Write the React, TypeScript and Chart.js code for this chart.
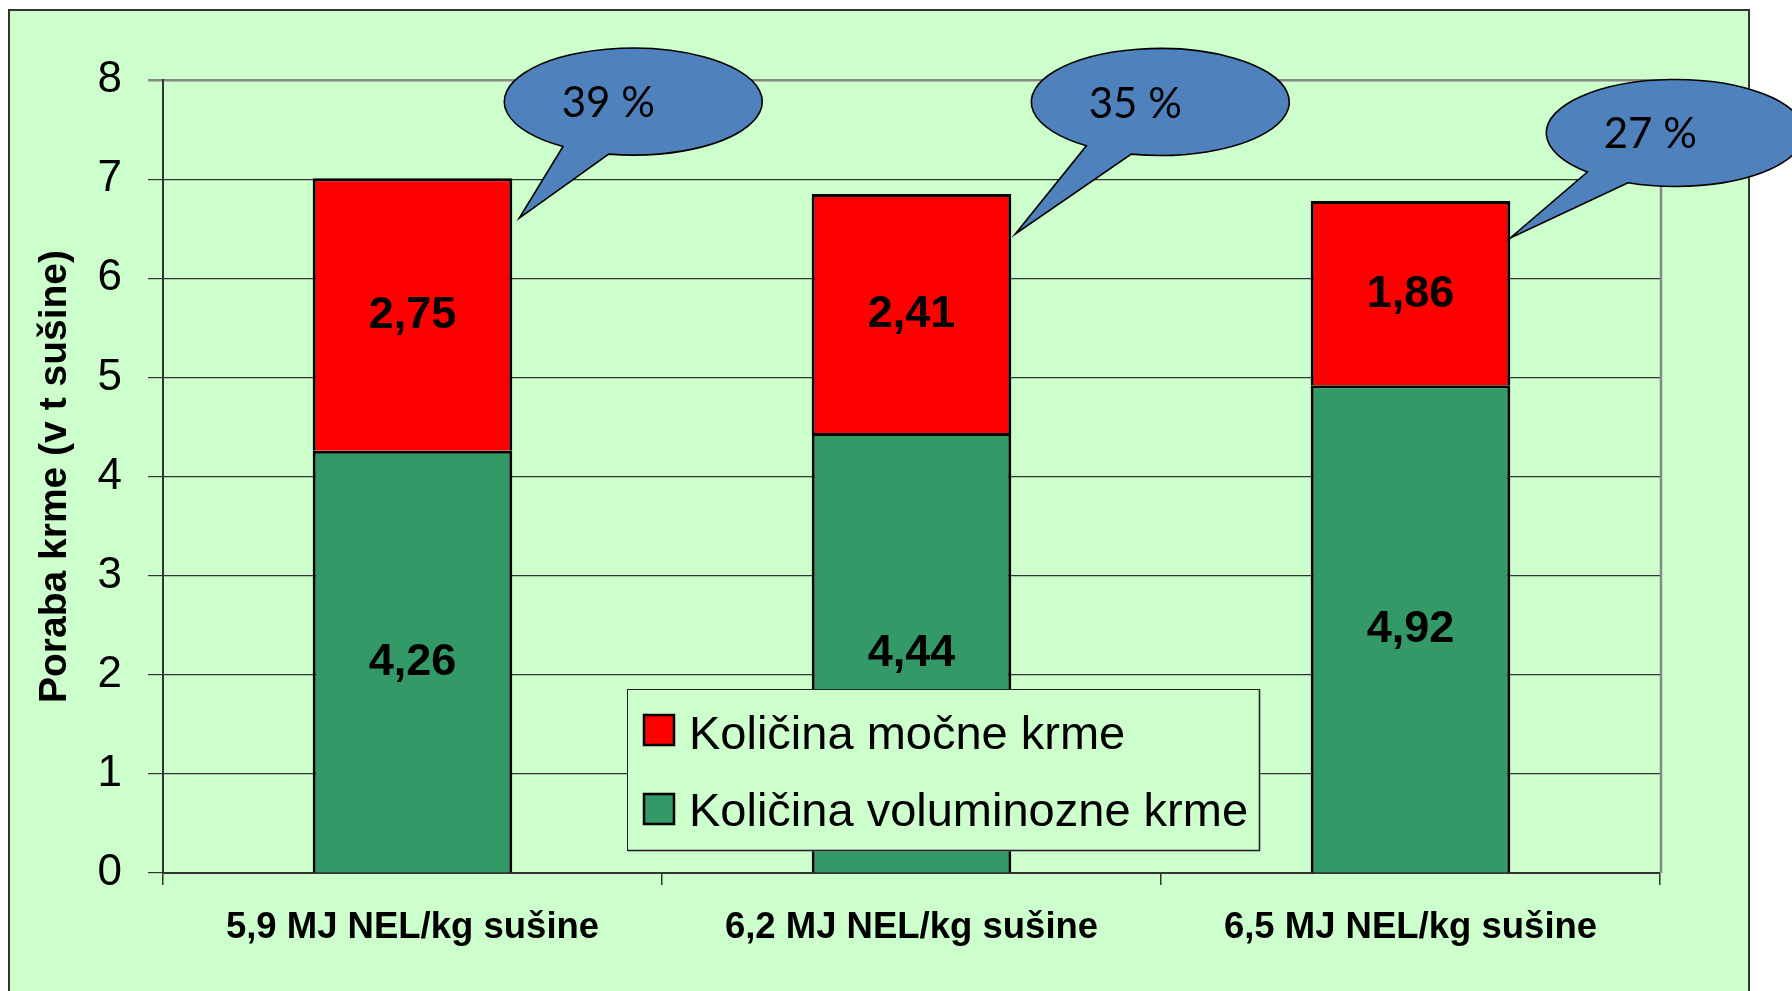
import React, { useEffect, useRef } from 'react';
import { Chart, registerables } from 'chart.js';

Chart.register(...registerables);

// ---- Data ----
const categories = ['5,9 MJ NEL/kg sušine', '6,2 MJ NEL/kg sušine', '6,5 MJ NEL/kg sušine'];
const concentrateFeed = [2.75, 2.41, 1.86]; // Količina močne krme
const roughageFeed = [4.26, 4.44, 4.92]; // Količina voluminozne krme
const seriesConcentrate = 'Količina močne krme';
const seriesRoughage = 'Količina voluminozne krme';
const yTickValues = [0, 1, 2, 3, 4, 5, 6, 7, 8];
const yAxisTitle = 'Poraba krme (v t sušine)';
const calloutTexts = ['39 %', '35 %', '27 %'];

// ---- Styling / layout constants ----
const FONT = "'Liberation Sans', Arial, sans-serif";
const CALLOUT_FONT = "Lato, 'Open Sans', sans-serif";
const GREEN = '#339966';
const RED = '#FF0000';
const BG = '#CCFFCC';
const CALLOUT_FILL = '#4F81BD';
const RX = 129;
const RY = 53.5;
const calloutLayout = [
  { dx: 121, dy: -76.5, a: 123, b: 101, tx: 7, ty: 40 },
  { dx: 149, dy: -92, a: 125, b: 103, tx: 4, ty: 40 },
  { dx: 165, dy: -68, a: 133, b: 111.5, tx: 0, ty: 37 },
];
const LEGEND_BOX = { x: 627, y: 689, w: 632, h: 161 };

const fmt = (v: number) => v.toFixed(2).replace('.', ',');

const backgroundPlugin = {
  id: 'bgFrame',
  beforeDraw(chart: any) {
    const { ctx, width, height } = chart;
    ctx.save();
    ctx.fillStyle = '#FFFFFF';
    ctx.fillRect(0, 0, width, height);
    ctx.fillStyle = BG;
    ctx.fillRect(9, 10, 1740, height + 20);
    ctx.strokeStyle = '#333333';
    ctx.lineWidth = 2;
    ctx.strokeRect(9, 10, 1740, height + 20);
    ctx.restore();
  },
  beforeDatasetsDraw(chart: any) {
    const { ctx, chartArea } = chart;
    ctx.save();
    ctx.strokeStyle = '#888888';
    ctx.lineWidth = 2.5;
    ctx.beginPath();
    ctx.moveTo(chartArea.right + 1, chartArea.top);
    ctx.lineTo(chartArea.right + 1, chartArea.bottom);
    ctx.stroke();
    ctx.restore();
  },
};

const labelsAndLegendPlugin = {
  id: 'labelsLegend',
  afterDatasetsDraw(chart: any) {
    const { ctx } = chart;
    ctx.save();
    ctx.fillStyle = '#000';
    ctx.font = `bold 45px ${FONT}`;
    ctx.textAlign = 'center';
    ctx.textBaseline = 'middle';
    chart.data.datasets.forEach((ds: any, di: number) => {
      const meta = chart.getDatasetMeta(di);
      meta.data.forEach((el: any, i: number) => {
        const p = el.getProps(['x', 'y', 'base'], true);
        ctx.fillText(fmt(ds.data[i]), p.x, (p.y + p.base) / 2 + 1);
      });
    });

    // legend (top item = top stacked series)
    const L = LEGEND_BOX;
    ctx.fillStyle = BG;
    ctx.fillRect(L.x, L.y, L.w, L.h);
    ctx.strokeStyle = '#777';
    ctx.lineWidth = 2;
    ctx.beginPath();
    ctx.moveTo(L.x + 1, L.y + L.h + 0.5);
    ctx.lineTo(L.x + L.w + 0.5, L.y + L.h + 0.5);
    ctx.lineTo(L.x + L.w + 0.5, L.y + 1);
    ctx.stroke();
    ctx.strokeStyle = '#222';
    ctx.lineWidth = 1;
    ctx.strokeRect(L.x + 0.5, L.y + 0.5, L.w, L.h);

    const items = [...chart.data.datasets].reverse();
    const rows = [{ sq: 715, base: 749 }, { sq: 794, base: 826 }];
    items.forEach((ds: any, i: number) => {
      const r = rows[i];
      ctx.fillStyle = ds.backgroundColor;
      ctx.fillRect(L.x + 17, r.sq, 30, 30);
      ctx.strokeStyle = '#000';
      ctx.lineWidth = 2.5;
      ctx.strokeRect(L.x + 17, r.sq, 30, 30);
      ctx.fillStyle = '#000';
      ctx.font = `47px ${FONT}`;
      ctx.textAlign = 'left';
      ctx.textBaseline = 'alphabetic';
      ctx.fillText(ds.label, L.x + 62, r.base);
    });
    ctx.restore();
  },
};

const calloutPlugin = {
  id: 'callouts',
  afterDraw(chart: any) {
    const { ctx } = chart;
    const topMeta = chart.getDatasetMeta(chart.data.datasets.length - 1);
    ctx.save();
    topMeta.data.forEach((el: any, i: number) => {
      const lay = calloutLayout[i];
      const p = el.getProps(['x', 'y', 'width'], true);
      const ax = p.x + p.width / 2;
      const ay = p.y;
      const cx = ax + lay.dx;
      const cy = ay + lay.dy;
      const ta = (lay.a * Math.PI) / 180;
      const tb = (lay.b * Math.PI) / 180 + Math.PI * 2;
      ctx.beginPath();
      ctx.ellipse(cx, cy, RX, RY, 0, ta, tb, false);
      ctx.lineTo(ax + lay.tx, ay + lay.ty);
      ctx.closePath();
      ctx.fillStyle = CALLOUT_FILL;
      ctx.fill();
      ctx.strokeStyle = '#000';
      ctx.lineWidth = 1.6;
      ctx.stroke();
      ctx.fillStyle = '#000';
      ctx.font = `42px ${CALLOUT_FONT}`;
      ctx.textAlign = 'center';
      ctx.textBaseline = 'middle';
      ctx.fillText(calloutTexts[i], cx - 25, cy + 2);
    });
    ctx.restore();
  },
};

export default function App() {
  const canvasRef = useRef<HTMLCanvasElement | null>(null);

  useEffect(() => {
    if (!canvasRef.current) return;
    const chart = new Chart(canvasRef.current, {
      type: 'bar',
      data: {
        labels: categories,
        datasets: [
          {
            label: seriesRoughage,
            data: roughageFeed,
            backgroundColor: GREEN,
            borderColor: '#000',
            borderWidth: 3,
            barPercentage: 0.4,
            categoryPercentage: 1,
          },
          {
            label: seriesConcentrate,
            data: concentrateFeed,
            backgroundColor: RED,
            borderColor: '#000',
            borderWidth: 3,
            barPercentage: 0.4,
            categoryPercentage: 1,
          },
        ],
      },
      options: {
        responsive: false,
        animation: false,
        events: [],
        layout: { padding: { left: 0, top: 80, right: 132, bottom: 0 } },
        plugins: {
          legend: { display: false },
          tooltip: { enabled: false },
          title: { display: false },
        },
        scales: {
          x: {
            stacked: true,
            grid: {
              display: true,
              drawOnChartArea: false,
              drawTicks: true,
              tickLength: 12,
              color: '#333',
              lineWidth: 1.5,
            },
            border: { color: '#333', width: 2 },
            ticks: {
              color: '#000',
              font: { family: FONT, size: 36.5, weight: 'bold' },
              padding: 21,
              maxRotation: 0,
              minRotation: 0,
              autoSkip: false,
            },
            afterFit: (s: any) => {
              s.height = 118;
            },
          },
          y: {
            stacked: true,
            min: 0,
            max: 8,
            afterBuildTicks: (s: any) => {
              s.ticks = yTickValues.map((v) => ({ value: v }));
            },
            grid: {
              color: (c: any) => (c.tick && c.tick.value === 8 ? '#888' : '#333'),
              lineWidth: (c: any) => (c.tick && c.tick.value === 8 ? 2.5 : 1.2),
              tickLength: 15,
            },
            border: { color: '#333', width: 2 },
            ticks: {
              color: '#000',
              font: { family: FONT, size: 44 },
              padding: 26,
            },
            title: {
              display: true,
              text: yAxisTitle,
              color: '#000',
              font: { family: FONT, size: 39, weight: 'bold', lineHeight: 1.2 },
              padding: { top: 32, bottom: 0 },
            },
            afterFit: (s: any) => {
              s.width = 163;
            },
          },
        },
      } as any,
      plugins: [backgroundPlugin, labelsAndLegendPlugin, calloutPlugin],
    });
    return () => chart.destroy();
  }, []);

  return (
    <div style={{ position: 'absolute', left: 0, top: 0, width: 1792, height: 991, overflow: 'hidden' }}>
      <canvas ref={canvasRef} width={1792} height={991} style={{ display: 'block', width: 1792, height: 991 }} />
    </div>
  );
}
